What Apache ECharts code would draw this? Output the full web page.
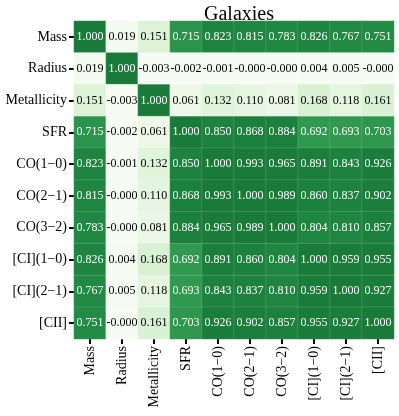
<!DOCTYPE html>
<html>
<head>
<meta charset="utf-8">
<script src="https://cdn.jsdelivr.net/npm/echarts@6/dist/echarts.min.js"></script>
<style>
  html, body { margin: 0; padding: 0; background: #fff; }
  #myChart { width: 399px; height: 416px; }
</style>
</head>
<body>
<div id="myChart"></div>
<script>
// variable names (rows top to bottom, columns left to right)
var names = ['Mass', 'Radius', 'Metallicity', 'SFR', 'CO(1\u22120)', 'CO(2\u22121)',
             'CO(3\u22122)', '[CI](1\u22120)', '[CI](2\u22121)', '[CII]'];

// correlation matrix, one array per row (-0.000 kept as negative zero)
var rowMass   = [1.000, 0.019, 0.151, 0.715, 0.823, 0.815, 0.783, 0.826, 0.767, 0.751];
var rowRadius = [0.019, 1.000, -0.003, -0.002, -0.001, -0.000, -0.000, 0.004, 0.005, -0.000];
var rowMetal  = [0.151, -0.003, 1.000, 0.061, 0.132, 0.110, 0.081, 0.168, 0.118, 0.161];
var rowSFR    = [0.715, -0.002, 0.061, 1.000, 0.850, 0.868, 0.884, 0.692, 0.693, 0.703];
var rowCO10   = [0.823, -0.001, 0.132, 0.850, 1.000, 0.993, 0.965, 0.891, 0.843, 0.926];
var rowCO21   = [0.815, -0.000, 0.110, 0.868, 0.993, 1.000, 0.989, 0.860, 0.837, 0.902];
var rowCO32   = [0.783, -0.000, 0.081, 0.884, 0.965, 0.989, 1.000, 0.804, 0.810, 0.857];
var rowCI10   = [0.826, 0.004, 0.168, 0.692, 0.891, 0.860, 0.804, 1.000, 0.959, 0.955];
var rowCI21   = [0.767, 0.005, 0.118, 0.693, 0.843, 0.837, 0.810, 0.959, 1.000, 0.927];
var rowCII    = [0.751, -0.000, 0.161, 0.703, 0.926, 0.902, 0.857, 0.955, 0.927, 1.000];

var rows = [rowMass, rowRadius, rowMetal, rowSFR, rowCO10, rowCO21, rowCO32, rowCI10, rowCI21, rowCII];

var data = [];
rows.forEach(function (row, i) {
    row.forEach(function (v, j) {
        data.push({
            value: [j, i, v],
            label: { color: v > 0.5 ? '#ffffff' : '#000000' }
        });
    });
});

function fmt(v) {
    return (Object.is(v, -0) ? '-' : '') + v.toFixed(3);
}

var serif = '"Liberation Serif", "DejaVu Serif", serif';

var option = {
    backgroundColor: '#fff',
    animation: false,
    title: {
        text: 'Galaxies',
        left: 234,
        top: 0,
        textAlign: 'center',
        textStyle: { fontFamily: serif, fontSize: 20, fontWeight: 'normal', color: '#000' }
    },
    grid: { left: 74, top: 21, width: 320, height: 318 },
    xAxis: {
        type: 'category',
        data: names,
        axisLine: { show: false },
        axisTick: { show: true, length: 5, alignWithLabel: true, lineStyle: { color: '#000', width: 2 } },
        axisLabel: { rotate: 90, margin: 7, interval: 0, fontFamily: serif, fontSize: 14, color: '#000' },
        splitArea: { show: false }
    },
    yAxis: {
        type: 'category',
        data: names,
        inverse: true,
        axisLine: { show: false },
        axisTick: { show: true, length: 5, alignWithLabel: true, lineStyle: { color: '#000', width: 2 } },
        axisLabel: { margin: 7, interval: 0, fontFamily: serif, fontSize: 14, color: '#000' }
    },
    visualMap: {
        show: false,
        type: 'continuous',
        min: -0.01,
        max: 1,
        dimension: 2,
        inRange: {
            color: ['#f7fcf5', '#e5f5e0', '#c7e9c0', '#a1d99b', '#74c476',
                    '#41ab5d', '#238b45', '#1b7f3d', '#1a7a3a']
        }
    },
    series: [{
        type: 'heatmap',
        data: data,
        itemStyle: { borderWidth: 0.5, borderColor: 'rgba(255,255,255,0.25)' },
        label: {
            show: true,
            fontFamily: serif,
            fontSize: 12,
            formatter: function (p) { return fmt(p.value[2]); }
        },
        emphasis: { disabled: true }
    }]
};

var myChart = echarts.init(document.getElementById('myChart'));
myChart.setOption(option);
</script>
</body>
</html>
